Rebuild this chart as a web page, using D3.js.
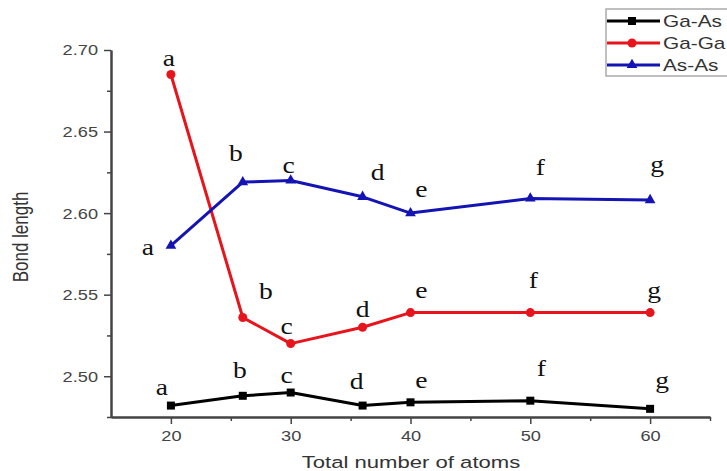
<!DOCTYPE html>
<html lang="en">
<head>
<meta charset="UTF-8">
<title>Bond length vs total number of atoms</title>
<script src="https://d3js.org/d3.v7.min.js"></script>
<style>
    body { margin: 0; background: #fff; }
    svg { display: block; }
</style>
</head>
<body>
<script>
// values
const atoms = [20, 26, 30, 36, 40, 50, 60];
const gaAs = [2.482, 2.488, 2.490, 2.482, 2.484, 2.485, 2.480];
const gaGa = [2.685, 2.536, 2.520, 2.530, 2.539, 2.539, 2.539];
const asAs = [2.580, 2.619, 2.620, 2.610, 2.600, 2.609, 2.608];
const pointLabels = ["a", "b", "c", "d", "e", "f", "g"];
const seriesNames = ["Ga-As", "Ga-Ga", "As-As"];
const xTicks = [20, 30, 40, 50, 60];
const xMinor = [25, 35, 45, 55, 65];
const yTicks = [2.50, 2.55, 2.60, 2.65, 2.70];
const yMinor = [2.475, 2.525, 2.575, 2.625, 2.675];

// label offsets (px) from each point, per series
const gaAsOff = [[-9, -11], [-3, -18], [-4, -10], [-6, -17], [11, -14], [11, -25], [12, -21]];
const gaGaOff = [[-2, -8], [23, -19], [-4, -10], [0, -10], [11, -15], [3, -25], [4, -15]];
const asAsOff = [[-23, 9], [-7, -21], [-2, -7], [15, -17], [11, -16], [10, -23], [7, -28]];

const W = 727, H = 471;
const SX = 1.3; // the source picture is stretched sideways

const series = [
    {name: seriesNames[0], values: gaAs, off: gaAsOff, color: "#000000", symbol: d3.symbolSquare, size: 64},
    {name: seriesNames[1], values: gaGa, off: gaGaOff, color: "#e8141c", symbol: d3.symbolCircle, size: 64},
    {name: seriesNames[2], values: asAs, off: asAsOff, color: "#1414b4", symbol: d3.symbolTriangle, size: 50}
];

const x = d3.scaleLinear().domain([15, 65]).range([111, 710]);
const y = d3.scaleLinear().domain([2.475, 2.70]).range([417, 50]);

const svg = d3.select("body").append("svg")
    .attr("width", W).attr("height", H);

// axes
const axisColor = "#444";
const yAxis = svg.append("g").attr("transform", "translate(111,0)")
    .call(d3.axisLeft(y).tickValues(yTicks).tickSize(7).tickSizeOuter(0).tickFormat(d3.format(".2f")));
const yAxisMinor = svg.append("g").attr("transform", "translate(111,0)")
    .call(d3.axisLeft(y).tickValues(yMinor).tickSize(4).tickSizeOuter(0).tickFormat(""));
const xAxis = svg.append("g").attr("transform", "translate(0,417)")
    .call(d3.axisBottom(x).tickValues(xTicks).tickSize(7).tickSizeOuter(0));
const xAxisMinor = svg.append("g").attr("transform", "translate(0,417)")
    .call(d3.axisBottom(x).tickValues(xMinor).tickSize(4).tickSizeOuter(0).tickFormat(""));

[yAxis, yAxisMinor, xAxis, xAxisMinor].forEach(g => {
    g.select(".domain").attr("stroke", axisColor).attr("stroke-width", 2);
    g.selectAll(".tick line").attr("stroke", axisColor).attr("stroke-width", 1.5);
});
yAxis.selectAll("text")
    .attr("x", -13 / SX).attr("dy", "0.35em")
    .attr("transform", `scale(${SX},1)`)
    .attr("fill", axisColor).style("font", "14px 'Liberation Sans', Arial, sans-serif");
xAxis.selectAll("text")
    .attr("y", 14).attr("dy", "0.71em")
    .attr("transform", `scale(${SX},1)`)
    .attr("fill", axisColor).style("font", "14px 'Liberation Sans', Arial, sans-serif");

// axis titles
svg.append("text")
    .attr("transform", `translate(411,468) scale(${SX},1)`)
    .attr("text-anchor", "middle")
    .attr("fill", "#333")
    .style("font", "17px 'Liberation Sans', Arial, sans-serif")
    .text("Total number of atoms");

svg.append("text")
    .attr("transform", `translate(28,237) scale(${SX},1) rotate(-90)`)
    .attr("text-anchor", "middle")
    .attr("fill", "#333")
    .style("font", "17px 'Liberation Sans', Arial, sans-serif")
    .text("Bond length");

// lines, markers, letters
const line = d3.line().x((d, i) => x(atoms[i])).y(d => y(d));

series.forEach(s => {
    svg.append("path")
        .datum(s.values)
        .attr("d", line)
        .attr("fill", "none")
        .attr("stroke", s.color)
        .attr("stroke-width", 3)
        .attr("stroke-linejoin", "round");

    svg.selectAll(null)
        .data(s.values)
        .enter().append("path")
        .attr("d", d3.symbol().type(s.symbol).size(s.size))
        .attr("transform", (d, i) => `translate(${x(atoms[i])},${y(d)})`)
        .attr("fill", s.color);

    svg.selectAll(null)
        .data(s.values)
        .enter().append("text")
        .attr("transform", (d, i) => `translate(${x(atoms[i]) + s.off[i][0]},${y(d) + s.off[i][1]}) scale(1.2,1)`)
        .attr("text-anchor", "middle")
        .attr("fill", "#111")
        .style("font", "23px 'Liberation Serif', 'Times New Roman', serif")
        .text((d, i) => pointLabels[i]);
});

// legend (runs off the right edge like the source)
const legend = svg.append("g");
legend.append("rect")
    .attr("x", 606).attr("y", 9).attr("width", 140).attr("height", 67)
    .attr("fill", "#fff").attr("stroke", "#aaa").attr("stroke-width", 1.5);

series.forEach((s, i) => {
    const ly = 21 + i * 22;
    legend.append("line")
        .attr("x1", 607).attr("x2", 660).attr("y1", ly).attr("y2", ly)
        .attr("stroke", s.color).attr("stroke-width", 3);
    legend.append("path")
        .attr("d", d3.symbol().type(s.symbol).size(s.size))
        .attr("transform", `translate(632,${ly})`)
        .attr("fill", s.color);
    legend.append("text")
        .attr("transform", `translate(663,${ly + 6}) scale(${SX},1)`)
        .attr("fill", "#333")
        .style("font", "16px 'Liberation Sans', Arial, sans-serif")
        .text(s.name);
});
</script>
</body>
</html>
